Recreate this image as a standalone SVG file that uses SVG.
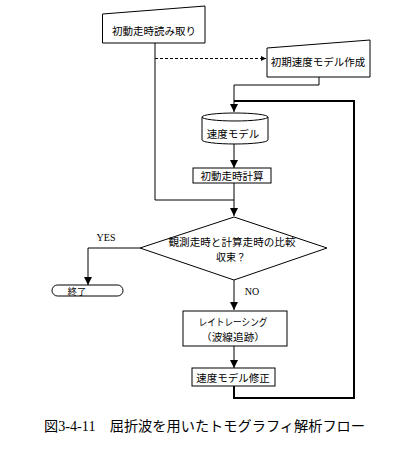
<svg xmlns="http://www.w3.org/2000/svg" width="417" height="451" viewBox="0 0 417 451">
<defs>
<style>
.shape{fill:#fff;stroke:#000;stroke-width:1}
.ln{fill:none;stroke:#000;stroke-width:1}
.thick{fill:none;stroke:#000;stroke-width:2}
.dash{fill:none;stroke:#000;stroke-width:1;stroke-dasharray:3 2}
.t{font-family:"Noto Sans CJK JP","Noto Sans",sans-serif;font-size:10.5px;fill:#000;text-anchor:middle;dominant-baseline:central}
.t2{font-family:"Noto Sans CJK JP","Noto Sans",sans-serif;font-size:10px;fill:#000;text-anchor:middle;dominant-baseline:central}
.s{font-family:"Liberation Serif",serif;font-size:10px;fill:#000;text-anchor:middle;dominant-baseline:central}
.cap{font-family:"Liberation Serif","Noto Sans CJK JP",serif;font-size:14px;fill:#000}
</style>
<marker id="arr" markerUnits="userSpaceOnUse" markerWidth="10" markerHeight="10" viewBox="0 0 10 10" refX="8" refY="5" orient="auto">
<path d="M0,1 L8,5 L0,9 z" fill="#000"/>
</marker>
<marker id="arrs" markerUnits="userSpaceOnUse" markerWidth="6" markerHeight="6" viewBox="0 0 6 6" refX="5" refY="3" orient="auto">
<path d="M0,0.5 L5,3 L0,5.5 z" fill="#000"/>
</marker>
</defs>
<rect width="417" height="451" fill="#fff"/>

<g id="connectors">
<path class="ln" d="M155,43 V200 H234"/>
<path class="ln" d="M234,183 V216" marker-end="url(#arr)"/>
<path class="dash" d="M155,58.5 H266" marker-end="url(#arrs)"/>
<path class="ln" d="M319,77 V85 H234 V112" marker-end="url(#arr)"/>
<path class="thick" d="M234,101 H354 V398 H234 V386"/>
<path class="ln" d="M234,144 V168" marker-end="url(#arr)"/>
<path class="ln" d="M234,280 V310" marker-end="url(#arr)"/>
<path class="ln" d="M140,248 H88 V285" marker-end="url(#arr)"/>
<path class="ln" d="M234,346 V368" marker-end="url(#arr)"/>
</g>

<g id="node-read">
<polygon class="shape" points="102.5,14 205,6 205,43 102.5,43"/>
<text class="t" x="154" y="30">初動走時読み取り</text>
</g>

<g id="node-init-model">
<polygon class="shape" points="267,48 370,40 370,77 267,77"/>
<text class="t" x="318" y="61">初期速度モデル作成</text>
</g>

<g id="node-model">
<path class="shape" d="M202,117 A33,4 0 0 1 268,117 V140 A33,4 0 0 1 202,140 Z"/>
<path class="ln" d="M202,117 A33,4 0 0 0 268,117"/>
<text class="t" x="233" y="133">速度モデル</text>
</g>

<g id="node-calc">
<rect class="shape" x="193" y="168" width="78" height="15"/>
<text class="t" x="232" y="175.5">初動走時計算</text>
</g>

<g id="node-compare">
<polygon class="shape" points="234,217 327,248 234,280 140,248"/>
<text class="t2" x="232" y="241" textLength="127" lengthAdjust="spacingAndGlyphs">観測走時と計算走時の比較</text>
<text class="t2" x="231" y="256">収束？</text>
</g>

<g id="node-end">
<rect class="shape" x="52" y="285" width="71" height="11" rx="5.5" ry="5.5"/>
<text class="t" x="77" y="290.5" style="font-size:9.5px">終了</text>
</g>

<g id="node-raytrace">
<rect class="shape" x="183" y="311" width="104" height="35"/>
<text class="t2" x="233" y="321" textLength="69" lengthAdjust="spacingAndGlyphs">レイトレーシング</text>
<text class="t2" x="233" y="336" textLength="64" lengthAdjust="spacingAndGlyphs">（波線追跡）</text>
</g>

<g id="node-update">
<rect class="shape" x="192" y="368" width="83" height="18"/>
<text class="t" x="233" y="377">速度モデル修正</text>
</g>

<g id="labels">
<text class="s" x="106" y="237">YES</text>
<text class="s" x="252" y="291">NO</text>
</g>

<text class="cap" x="44" y="431" textLength="321" lengthAdjust="spacingAndGlyphs">図3-4-11　屈折波を用いたトモグラフィ解析フロー</text>
</svg>
